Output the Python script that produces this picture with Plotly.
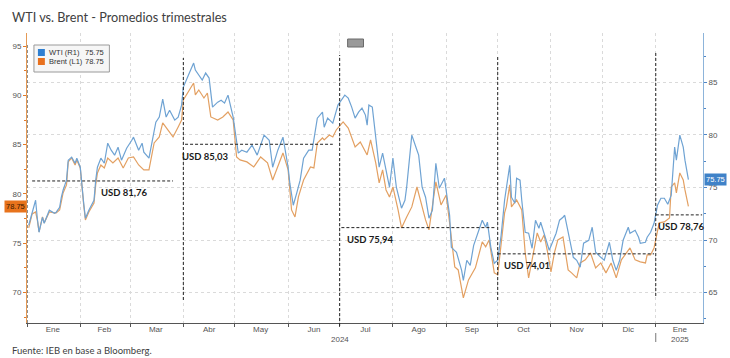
import plotly.graph_objects as go

# ---------------- data ----------------
wti_dates = [
    "2024-01-02","2024-01-04","2024-01-06","2024-01-07","2024-01-08","2024-01-10","2024-01-11","2024-01-14","2024-01-17","2024-01-18",
    "2024-01-20","2024-01-21","2024-01-22","2024-01-24","2024-01-25","2024-01-27","2024-01-29","2024-01-30","2024-02-01","2024-02-03",
    "2024-02-04","2024-02-06","2024-02-09","2024-02-10","2024-02-11","2024-02-13","2024-02-15","2024-02-17","2024-02-19","2024-02-21",
    "2024-02-23","2024-02-25","2024-02-28","2024-03-02","2024-03-03","2024-03-06","2024-03-08","2024-03-09","2024-03-12","2024-03-14",
    "2024-03-16","2024-03-18","2024-03-20","2024-03-22","2024-03-24","2024-03-27","2024-03-29","2024-03-31","2024-04-01","2024-04-04",
    "2024-04-07","2024-04-08","2024-04-10","2024-04-12","2024-04-14","2024-04-16","2024-04-18","2024-04-21","2024-04-23","2024-04-25",
    "2024-04-27","2024-04-30","2024-05-03","2024-05-05","2024-05-08","2024-05-11","2024-05-14","2024-05-18","2024-05-21","2024-05-23",
    "2024-05-26","2024-05-29","2024-05-30","2024-06-01","2024-06-02","2024-06-04","2024-06-06","2024-06-08","2024-06-10","2024-06-13",
    "2024-06-15","2024-06-17","2024-06-18","2024-06-21","2024-06-22","2024-06-24","2024-06-27","2024-06-28","2024-06-30","2024-07-02",
    "2024-07-04","2024-07-06","2024-07-08","2024-07-10","2024-07-12","2024-07-14","2024-07-16","2024-07-17","2024-07-18","2024-07-20",
    "2024-07-22","2024-07-24","2024-07-26","2024-07-28","2024-07-30","2024-08-01","2024-08-03","2024-08-06","2024-08-08","2024-08-09",
    "2024-08-12","2024-08-15","2024-08-16","2024-08-18","2024-08-20","2024-08-22","2024-08-24","2024-08-26","2024-08-28","2024-08-31",
    "2024-09-03","2024-09-04","2024-09-07","2024-09-10","2024-09-11","2024-09-13","2024-09-15","2024-09-17","2024-09-20","2024-09-22",
    "2024-09-24","2024-09-25","2024-09-27","2024-09-29","2024-10-01","2024-10-03","2024-10-05","2024-10-06","2024-10-08","2024-10-09",
    "2024-10-11","2024-10-12","2024-10-14","2024-10-15","2024-10-17","2024-10-19","2024-10-21","2024-10-23","2024-10-25","2024-10-26",
    "2024-10-29","2024-10-31","2024-11-04","2024-11-06","2024-11-08","2024-11-09","2024-11-12","2024-11-14","2024-11-16","2024-11-18",
    "2024-11-20","2024-11-23","2024-11-25","2024-11-27","2024-11-30","2024-12-02","2024-12-05","2024-12-07","2024-12-09","2024-12-11",
    "2024-12-13","2024-12-16","2024-12-17","2024-12-20","2024-12-22","2024-12-23","2024-12-26","2024-12-27","2024-12-29","2024-12-31",
    "2025-01-02","2025-01-04","2025-01-06","2025-01-08","2025-01-10","2025-01-12","2025-01-13","2025-01-15","2025-01-17","2025-01-18",
    "2025-01-20",
]
wti_values = [
    71.41,72.65,73.79,72.08,70.74,72.17,71.60,72.84,72.55,72.65,
    73.12,74.08,74.74,75.70,77.60,77.89,77.31,77.79,76.93,73.50,
    72.08,72.84,73.79,75.70,76.93,77.79,77.31,79.22,78.55,78.08,
    78.84,77.60,78.74,79.50,79.79,78.55,79.22,78.36,77.79,79.50,
    81.22,81.70,83.41,81.70,82.36,81.41,81.70,82.84,84.55,85.70,
    86.84,86.17,85.70,85.22,85.89,85.41,82.65,83.12,83.31,83.03,
    83.79,81.70,78.27,78.55,78.36,79.03,78.08,79.98,79.50,76.93,
    78.55,79.79,78.84,76.93,75.41,73.31,74.46,75.70,77.79,78.55,
    78.55,80.46,81.60,82.17,80.74,81.60,81.12,81.70,82.84,83.31,
    83.79,83.50,82.65,81.60,82.17,82.55,81.89,80.93,82.84,82.65,
    79.79,76.93,78.27,76.65,75.03,77.79,75.03,73.03,73.79,75.03,
    79.98,78.55,78.08,75.03,74.08,72.08,72.84,77.31,74.93,75.89,
    72.36,69.31,68.84,67.12,66.17,68.08,67.60,69.50,70.93,71.89,
    71.22,71.70,69.31,67.79,68.08,70.46,73.79,74.93,77.12,74.08,
    73.50,75.89,75.70,73.79,70.74,70.65,69.22,71.89,71.12,71.70,
    70.17,69.03,70.65,71.89,72.17,72.36,69.98,68.36,68.08,67.41,
    69.70,69.98,71.22,68.84,68.36,68.08,69.79,68.08,67.12,68.08,
    69.98,71.22,70.65,70.93,70.27,69.70,69.79,70.27,70.74,71.60,
    73.31,73.98,73.98,73.41,74.27,78.84,77.60,79.98,78.84,77.60,
    75.75,
]

brent_dates = [
    "2024-01-02","2024-01-04","2024-01-06","2024-01-07","2024-01-08","2024-01-10","2024-01-11","2024-01-14","2024-01-17","2024-01-18",
    "2024-01-20","2024-01-21","2024-01-22","2024-01-24","2024-01-25","2024-01-27","2024-01-29","2024-01-30","2024-02-01","2024-02-03",
    "2024-02-04","2024-02-06","2024-02-09","2024-02-10","2024-02-11","2024-02-13","2024-02-15","2024-02-17","2024-02-20","2024-02-23",
    "2024-02-26","2024-02-29","2024-03-03","2024-03-06","2024-03-09","2024-03-12","2024-03-15","2024-03-18","2024-03-20","2024-03-23",
    "2024-03-26","2024-03-29","2024-03-31","2024-04-01","2024-04-04","2024-04-07","2024-04-08","2024-04-10","2024-04-13","2024-04-15",
    "2024-04-17","2024-04-21","2024-04-24","2024-04-27","2024-04-30","2024-05-02","2024-05-04","2024-05-08","2024-05-12","2024-05-16",
    "2024-05-20","2024-05-23","2024-05-29","2024-06-01","2024-06-03","2024-06-05","2024-06-07","2024-06-10","2024-06-14","2024-06-16",
    "2024-06-18","2024-06-21","2024-06-22","2024-06-25","2024-06-27","2024-06-29","2024-07-03","2024-07-06","2024-07-10","2024-07-13",
    "2024-07-17","2024-07-19","2024-07-22","2024-07-24","2024-07-26","2024-07-28","2024-07-30","2024-08-01","2024-08-04","2024-08-06",
    "2024-08-09","2024-08-12","2024-08-15","2024-08-18","2024-08-20","2024-08-22","2024-08-26","2024-08-29","2024-09-01","2024-09-03",
    "2024-09-06","2024-09-08","2024-09-11","2024-09-14","2024-09-18","2024-09-22","2024-09-24","2024-09-26","2024-09-29","2024-10-01",
    "2024-10-03","2024-10-05","2024-10-06","2024-10-08","2024-10-09","2024-10-12","2024-10-15","2024-10-17","2024-10-19","2024-10-21",
    "2024-10-24","2024-10-26","2024-10-28","2024-10-30","2024-11-01","2024-11-03","2024-11-05","2024-11-08","2024-11-11","2024-11-13",
    "2024-11-16","2024-11-18","2024-11-21","2024-11-24","2024-11-27","2024-11-30","2024-12-03","2024-12-06","2024-12-09","2024-12-12",
    "2024-12-15","2024-12-17","2024-12-20","2024-12-23","2024-12-26","2024-12-27","2024-12-29","2024-12-31","2025-01-03","2025-01-06",
    "2025-01-09","2025-01-10","2025-01-12","2025-01-13","2025-01-15","2025-01-17","2025-01-18","2025-01-20",
]
brent_values = [
    76.56,77.98,78.18,77.37,76.16,77.67,77.07,78.18,78.08,78.08,
    78.38,79.40,80.11,80.92,83.25,83.65,82.94,83.45,82.64,78.89,
    77.37,78.18,79.09,80.92,82.13,82.94,82.64,83.65,83.15,83.65,
    82.64,83.65,83.75,82.94,82.44,82.44,85.17,85.78,87.20,86.49,
    85.78,86.79,87.50,89.53,90.34,91.25,90.04,90.54,89.73,90.24,
    87.81,87.50,87.81,88.31,87.50,83.75,83.45,83.25,82.74,83.75,
    83.15,81.42,84.16,82.44,78.38,77.67,79.70,81.42,82.74,82.64,
    85.17,85.68,85.48,85.98,85.78,86.49,87.30,86.69,84.77,85.27,
    83.96,85.48,83.15,81.12,82.44,80.41,79.70,80.71,78.38,76.56,
    77.67,78.69,80.71,78.59,77.37,76.36,81.22,78.89,79.90,77.07,
    72.61,72.30,69.47,71.29,72.51,75.14,74.64,75.34,72.00,71.80,
    74.64,78.08,78.69,80.92,78.69,79.40,78.38,74.03,71.49,73.32,
    76.05,75.14,75.85,74.13,72.10,74.03,75.34,75.65,72.30,72.00,
    71.49,73.01,73.32,74.03,72.51,73.01,72.00,73.01,71.49,73.32,
    74.03,74.53,73.32,73.12,73.01,73.82,73.82,74.53,77.07,77.17,
    77.57,80.71,81.12,80.11,82.13,81.42,80.41,78.75,
]

# quarterly averages (levels drawn on the left / Brent axis, labels as printed)
quarter_starts = ["2024-01-01", "2024-04-01", "2024-07-01", "2024-10-01", "2025-01-01"]
avg_span_start = ["2024-01-04", "2024-04-02", "2024-07-02", "2024-10-01", "2025-01-01"]
avg_span_end = ["2024-03-26", "2024-06-27", "2024-09-30", "2024-12-31", "2025-01-28"]
avg_levels = [81.32, 85.04, 76.59, 73.93, 77.88]
avg_labels = ["USD 81,76", "USD 85,03", "USD 75,94", "USD 74,01", "USD 78,76"]
avg_label_dates = ["2024-02-27", "2024-04-14", "2024-07-19", "2024-10-18", "2025-01-16"]

month_mid = ["2024-01-16", "2024-02-15", "2024-03-16", "2024-04-16", "2024-05-16", "2024-06-16",
             "2024-07-16", "2024-08-16", "2024-09-16", "2024-10-16", "2024-11-16", "2024-12-16", "2025-01-15"]
month_names = ["Ene", "Feb", "Mar", "Abr", "May", "Jun", "Jul", "Ago", "Sep", "Oct", "Nov", "Dic", "Ene"]
year_labels = ["2024", "2025"]
year_label_dates = ["2024-07-01", "2025-01-15"]

# ---------------- layout geometry ----------------
W, H = 730, 358
L, R, T, B = 25, 706, 33, 323
PW, PH = R - L, B - T


def px(x):
    return (x - L) / PW


def py(y):
    return (B - y) / PH


WTI_COLOR = "#6fa3d3"
BRENT_COLOR = "#e3a062"
GRID = "#dadada"
TXT = "#555555"

fig = go.Figure()
fig.add_trace(go.Scatter(x=wti_dates, y=wti_values, mode="lines", yaxis="y2",
                         line=dict(color=WTI_COLOR, width=1.2), showlegend=False, hoverinfo="skip"))
fig.add_trace(go.Scatter(x=brent_dates, y=brent_values, mode="lines", yaxis="y",
                         line=dict(color=BRENT_COLOR, width=1.2), showlegend=False, hoverinfo="skip"))

shapes = []
annotations = []

# vertical dashed quarter separators (top / bottom in pixels)
vext = [(43, 323), (58, 300), (55, 326), (55, 300), (52, 296)]
for q, (t, b) in zip(quarter_starts, vext):
    shapes.append(dict(type="line", xref="x", yref="paper", x0=q, x1=q, y0=py(b), y1=py(t),
                       line=dict(color="#222222", width=1, dash="3px,2px")))

# horizontal dashed quarterly averages and labels
for s, e, lev, lab, ld in zip(avg_span_start, avg_span_end, avg_levels, avg_labels, avg_label_dates):
    shapes.append(dict(type="line", xref="x", yref="y", x0=s, x1=e, y0=lev, y1=lev,
                       line=dict(color="#222222", width=1, dash="3px,2px")))
    annotations.append(dict(x=ld, y=lev, xref="x", yref="y", text=f"<b>{lab}</b>", showarrow=False,
                            yshift=-12, font=dict(family="Lato, Open Sans, sans-serif", size=9.5,
                                                  color="#1a1a1a")))

# legend box
shapes.append(dict(type="rect", xref="paper", yref="paper", x0=px(32), x1=px(108), y0=py(72), y1=py(45),
                   line=dict(color="#9a9a9a", width=1), fillcolor="#f6f6f6", layer="above"))
shapes.append(dict(type="rect", xref="paper", yref="paper", x0=px(36), x1=px(43), y0=py(56), y1=py(49),
                   line=dict(width=0), fillcolor="#2f7fd1", layer="above"))
shapes.append(dict(type="rect", xref="paper", yref="paper", x0=px(36), x1=px(43), y0=py(65), y1=py(58),
                   line=dict(width=0), fillcolor="#e8711e", layer="above"))
leg_font = dict(family="Liberation Sans, sans-serif", size=7.5, color="#333333")
annotations += [
    dict(x=px(45), y=py(52.5), xref="paper", yref="paper", text="WTI (R1)", showarrow=False,
         xanchor="left", yanchor="middle", font=leg_font),
    dict(x=px(105), y=py(52.5), xref="paper", yref="paper", text=f"{wti_values[-1]:.2f}", showarrow=False,
         xanchor="right", yanchor="middle", font=leg_font),
    dict(x=px(45), y=py(61.5), xref="paper", yref="paper", text="Brent (L1)", showarrow=False,
         xanchor="left", yanchor="middle", font=leg_font),
    dict(x=px(105), y=py(61.5), xref="paper", yref="paper", text=f"{brent_values[-1]:.2f}", showarrow=False,
         xanchor="right", yanchor="middle", font=leg_font),
]

# small widget icon at the top
shapes.append(dict(type="rect", xref="paper", yref="paper", x0=px(348), x1=px(364), y0=py(47), y1=py(39),
                   line=dict(color="#6a6a6a", width=1), fillcolor="#999999", layer="above"))

# last-value tags
annotations.append(dict(x=0, y=brent_values[-1], xref="paper", yref="y", text=f"{brent_values[-1]:.2f}",
                        showarrow=False, xanchor="right", yanchor="middle", bgcolor="#e8731c",
                        borderpad=1, font=dict(family="Liberation Sans, sans-serif", size=7.5, color="#3a1a00")))
annotations.append(dict(x=1, y=wti_values[-1], xref="paper", yref="y2", text=f"{wti_values[-1]:.2f}",
                        showarrow=False, xanchor="left", yanchor="middle", xshift=1, bgcolor="#3f82c8",
                        borderpad=1, font=dict(family="Liberation Sans, sans-serif", size=7.5, color="#ffffff")))

# year labels under the month axis
for yl, yd in zip(year_labels, year_label_dates):
    annotations.append(dict(x=yd, y=py(339), xref="x", yref="paper", text=yl, showarrow=False,
                            yanchor="middle", font=dict(family="Liberation Sans, sans-serif", size=8, color=TXT)))
shapes.append(dict(type="line", xref="x", yref="paper", x0=quarter_starts[-1], x1=quarter_starts[-1],
                   y0=py(342), y1=py(333), line=dict(color="#777777", width=1)))

# title & source
annotations.append(dict(x=px(8), y=py(17), xref="paper", yref="paper",
                        text="WTI vs. Brent - Promedios trimestrales", showarrow=False,
                        xanchor="left", yanchor="middle",
                        font=dict(family="Lato, Open Sans, sans-serif", size=12.7, color="#404040")))
annotations.append(dict(x=px(8), y=py(350), xref="paper", yref="paper",
                        text="Fuente: IEB en base a Bloomberg.", showarrow=False,
                        xanchor="left", yanchor="middle",
                        font=dict(family="Lato, Open Sans, sans-serif", size=9.5, color="#404040")))

tick_font = dict(family="Liberation Sans, Arial, sans-serif", size=8, color=TXT)

fig.update_layout(
    width=W, height=H,
    margin=dict(l=L, r=W - R, t=T, b=H - B, pad=0),
    paper_bgcolor="white", plot_bgcolor="white",
    showlegend=False,
    shapes=shapes, annotations=annotations,
    xaxis=dict(type="date", range=["2024-01-01", "2025-01-28 12:00"],
               tickvals=month_mid, ticktext=month_names, ticks="", showgrid=False,
               showline=True, linecolor="#555555", linewidth=1, tickfont=tick_font,
               zeroline=False, ticklabelstandoff=-2,
               minor=dict(dtick="M1", tick0="2024-01-01", ticks="outside", ticklen=3,
                          tickcolor="#555555", showgrid=True, gridcolor=GRID, griddash="dot", gridwidth=1)),
    yaxis=dict(range=[66.92, 96.32], tickvals=[70, 75, 80, 85, 90, 95], ticks="outside", ticklen=3,
               tickcolor="#e07a2a", showline=True, linecolor="#e59a55", linewidth=1,
               showgrid=False, zeroline=False, tickfont=tick_font,
               minor=dict(tick0=0, dtick=2.5, ticks="outside", ticklen=2, tickcolor="#e07a2a", showgrid=False)),
    yaxis2=dict(range=[62.11, 89.70], tickvals=[65, 70, 75, 80, 85], overlaying="y", side="right",
                ticks="outside", ticklen=3, tickcolor="#4f86c6", showline=True, linecolor="#8db4da",
                linewidth=1, showgrid=True, gridcolor=GRID, griddash="dot", gridwidth=1,
                zeroline=False, tickfont=tick_font,
                minor=dict(tick0=0, dtick=2.5, ticks="outside", ticklen=2, tickcolor="#4f86c6", showgrid=False)),
)

fig.write_html("out.html", config={"displayModeBar": False},
               post_script="document.body.style.margin='0px';document.body.style.overflow='hidden';")
